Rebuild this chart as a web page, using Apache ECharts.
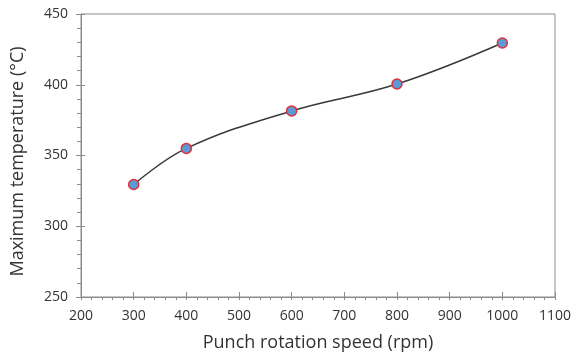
<!DOCTYPE html>
<html><head><meta charset="utf-8">
<script src="https://cdn.jsdelivr.net/npm/echarts@6/dist/echarts.min.js"></script>
<style>html,body{margin:0;padding:0;background:#fff}#c{width:574px;height:357px}</style>
</head><body><div id="c"></div>
<script>
const speeds = [300, 400, 600, 800, 1000];
const temps = [329.5, 355, 381.5, 400.5, 429.5];
const xTitle = 'Punch rotation speed (rpm)';
const yTitle = 'Maximum temperature (°C)';
const FONT = 'Open Sans';
const axisColor = '#8c8c8c';
const chart = echarts.init(document.getElementById('c'));
const xBase = {type:'value', min:200, max:1100, interval:100, position:'bottom'};
const yBase = {type:'value', min:250, max:450, interval:50, position:'left'};
chart.setOption({
  animation:false,
  grid:{left:81, right:17, top:14, bottom:58, show:true, borderColor:axisColor, borderWidth:1},
  xAxis:[
    Object.assign({}, xBase, {
      name:xTitle, nameLocation:'middle', nameGap:37,
      nameTextStyle:{fontFamily:FONT, fontSize:18, color:'#333'},
      axisLine:{show:true, lineStyle:{color:axisColor, width:1}},
      axisTick:{show:true, inside:true, length:5, lineStyle:{color:axisColor}},
      minorTick:{show:false},
      axisLabel:{fontFamily:FONT, fontSize:14, color:'#333', margin:12, formatter:v=>String(v)},
      splitLine:{show:false}
    }),
    Object.assign({}, xBase, {
      axisLine:{show:false},
      axisTick:{show:true, inside:false, length:3, lineStyle:{color:axisColor}},
      minorTick:{show:true, splitNumber:5, length:3, lineStyle:{color:axisColor}},
      axisLabel:{show:false}, splitLine:{show:false}
    })
  ],
  yAxis:[
    Object.assign({}, yBase, {
      name:yTitle, nameLocation:'middle', nameGap:54,
      nameTextStyle:{fontFamily:FONT, fontSize:18, color:'#333', padding:[0,12,0,0]},
      axisLine:{show:true, lineStyle:{color:axisColor, width:1}},
      axisTick:{show:true, inside:false, length:5, lineStyle:{color:axisColor}},
      minorTick:{show:true, splitNumber:5, length:4, lineStyle:{color:axisColor}},
      axisLabel:{fontFamily:FONT, fontSize:14, color:'#333', margin:13, formatter:v=>String(v)},
      splitLine:{show:false}
    }),
    Object.assign({}, yBase, {
      axisLine:{show:false},
      axisTick:{show:true, inside:true, length:4, lineStyle:{color:axisColor}},
      minorTick:{show:false},
      axisLabel:{show:false}, splitLine:{show:false}
    })
  ],
  series:[{
    type:'line', xAxisIndex:0, yAxisIndex:0,
    data: speeds.map((s,i)=>[s, temps[i]]),
    smooth:0.4,
    symbol:'circle', symbolSize:10,
    lineStyle:{color:'#3a3a3a', width:1.5},
    itemStyle:{color:'#5b9bd5', borderColor:'#e0303a', borderWidth:1.5}
  }]
});
</script></body></html>
